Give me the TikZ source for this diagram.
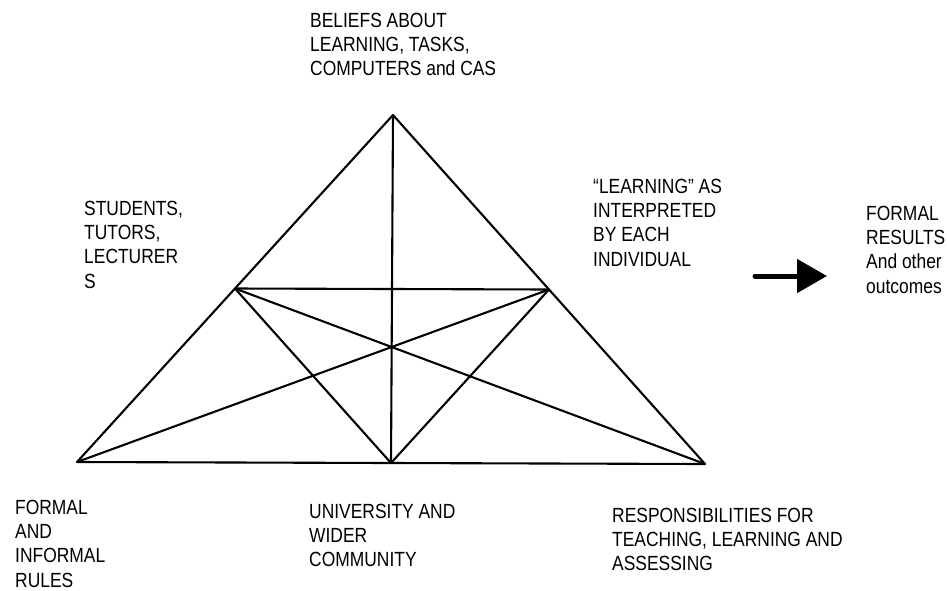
\documentclass[tikz,border=0pt]{standalone}
\usepackage{fontspec}
\setmainfont[FakeStretch=0.85]{Liberation Sans}
\usepackage{tikz}
\usetikzlibrary{calc,positioning,arrows.meta}

\begin{document}
\begin{tikzpicture}[x=1pt, y=-1pt,
        lbl/.style={align=left, anchor=north west, inner sep=0pt, font=\fontsize{20.5}{24.2}\selectfont},
        edge/.style={line width=2.1pt, line join=round}]
        \useasboundingbox (0,0) rectangle (947,590);

        % corners of the triangle
        \coordinate (apex) at (393,115);
        \coordinate (bl) at (77,462);
        \coordinate (br) at (705,464);
        \coordinate (lm) at ($(apex)!0.5!(bl)$);
        \coordinate (rm) at ($(apex)!0.5!(br)$);
        \coordinate (bm) at ($(bl)!0.5!(br)$);

        \node [lbl] (beliefs) at (310,13) {BELIEFS ABOUT\\LEARNING, TASKS,\\COMPUTERS and CAS};
        \node [lbl] (people) at (84,201) {STUDENTS,\\TUTORS,\\LECTURER\\S};
        \node [lbl] (object) at (593,179) {“LEARNING” AS\\INTERPRETED\\BY EACH\\INDIVIDUAL};
        \node [lbl] (results) at (866,206) {FORMAL\\RESULTS\\And other\\outcomes};
        \node [lbl] (rules) at (15,500) {FORMAL\\AND\\INFORMAL\\RULES};
        \node [lbl] (community) at (309,504) {UNIVERSITY AND\\WIDER\\COMMUNITY};
        \node [lbl] (division) at (612,508) {RESPONSIBILITIES FOR\\TEACHING, LEARNING AND\\ASSESSING};

        \draw[edge] (apex) -- (bl) -- (br) -- cycle;
        \draw[edge] (apex) -- (bm);
        \draw[edge] (lm) -- (rm);
        \draw[edge] (lm) -- (bm) -- (rm);
        \draw[edge] (bl) -- (rm);
        \draw[edge] (br) -- (lm);

        % outcome arrow
        \coordinate (arrowtail) at (755,276);
        \coordinate (arrowhead) at (827,276);
        \draw[line width=5pt, line cap=round, -{Triangle[length=30pt, width=33pt]}] (arrowtail) -- (arrowhead);

    \end{tikzpicture}
\end{document}
